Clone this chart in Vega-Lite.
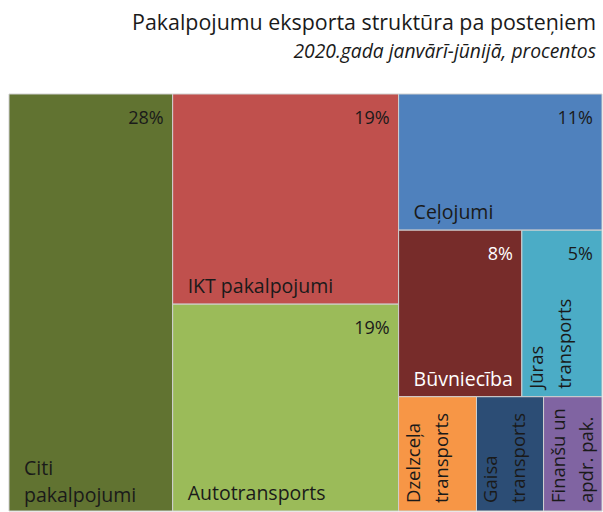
{
  "$schema": "https://vega.github.io/schema/vega-lite/v6.json",
  "width": 603,
  "height": 512,
  "autosize": {"type": "fit", "contains": "padding"},
  "padding": {"left": 8, "right": 0, "top": 12, "bottom": 0},
  "background": "white",
  "title": {
    "text": "Pakalpojumu eksporta struktūra pa posteņiem",
    "subtitle": "2020.gada janvārī-jūnijā, procentos",
    "anchor": "end",
    "frame": "group",
    "dx": -6,
    "font": "Open Sans",
    "fontSize": 21.4,
    "fontWeight": "normal",
    "color": "#1a1a1a",
    "subtitleFont": "Open Sans",
    "subtitleFontSize": 19.3,
    "subtitleFontStyle": "italic",
    "subtitleColor": "#1a1a1a",
    "subtitlePadding": 9,
    "offset": 31
  },
  "config": {"view": {"stroke": null}},
  "data": {
    "values": [
      {"name": "Citi pakalpojumi", "label": "Citi|pakalpojumi", "value": 27.6, "col": 1, "row": 1, "ord": 1},
      {"name": "IKT pakalpojumi", "label": "IKT pakalpojumi", "value": 19.2, "col": 2, "row": 1, "ord": 1},
      {"name": "Autotransports", "label": "Autotransports", "value": 18.9, "col": 2, "row": 2, "ord": 1},
      {"name": "Ceļojumi", "label": "Ceļojumi", "value": 11.2, "col": 3, "row": 1, "ord": 1},
      {"name": "Būvniecība", "label": "Būvniecība", "value": 8.3, "col": 3, "row": 2, "ord": 1},
      {"name": "Jūras transports", "label": "Jūras|transports", "value": 5.4, "col": 3, "row": 2, "ord": 2},
      {"name": "Dzelzceļa transports", "label": "Dzelzceļa|transports", "value": 3.6, "col": 3, "row": 3, "ord": 1},
      {"name": "Gaisa transports", "label": "Gaisa|transports", "value": 3.1, "col": 3, "row": 3, "ord": 2},
      {"name": "Finanšu un apdr. pak.", "label": "Finanšu un|apdr. pak.", "value": 2.7, "col": 3, "row": 3, "ord": 3}
    ]
  },
  "transform": [
    {"joinaggregate": [{"op": "sum", "field": "value", "as": "colTotal"}], "groupby": ["col"]},
    {"joinaggregate": [{"op": "sum", "field": "value", "as": "rowTotal"}], "groupby": ["col", "row"]},
    {"window": [{"op": "sum", "field": "value", "as": "cumAll"}], "sort": [{"field": "col"}, {"field": "row"}, {"field": "ord"}], "frame": [null, 0]},
    {"window": [{"op": "sum", "field": "value", "as": "cumCol"}], "groupby": ["col"], "sort": [{"field": "row"}, {"field": "ord"}], "frame": [null, 0]},
    {"window": [{"op": "sum", "field": "value", "as": "cumRow"}], "groupby": ["col", "row"], "sort": [{"field": "ord"}], "frame": [null, 0]},
    {"calculate": "datum.cumAll - datum.cumCol", "as": "colStart"},
    {"calculate": "datum.colStart + (datum.cumRow - datum.value) / datum.rowTotal * datum.colTotal", "as": "x0"},
    {"calculate": "datum.colStart + datum.cumRow / datum.rowTotal * datum.colTotal", "as": "x1"},
    {"calculate": "(datum.cumCol - datum.cumRow) / datum.colTotal * 100", "as": "y0"},
    {"calculate": "(datum.cumCol - datum.cumRow + datum.rowTotal) / datum.colTotal * 100", "as": "y1"},
    {"calculate": "format(datum.value, '.0f') + '%'", "as": "pctLabel"}
  ],
  "encoding": {
    "x": {"field": "x0", "type": "quantitative", "scale": {"domain": [0, 100], "nice": false, "zero": false}, "axis": null},
    "y": {"field": "y0", "type": "quantitative", "scale": {"domain": [0, 100], "nice": false, "zero": false, "reverse": true}, "axis": null}
  },
  "layer": [
    {
      "mark": {"type": "rect", "stroke": "#d0d0d0", "strokeWidth": 1},
      "encoding": {
        "x2": {"field": "x1"},
        "y2": {"field": "y1"},
        "color": {
          "field": "name",
          "type": "nominal",
          "scale": {
            "domain": ["Citi pakalpojumi", "IKT pakalpojumi", "Autotransports", "Ceļojumi", "Būvniecība", "Jūras transports", "Dzelzceļa transports", "Gaisa transports", "Finanšu un apdr. pak."],
            "range": ["#617331", "#c0504d", "#9bbb59", "#4f81bd", "#772c2a", "#4bacc6", "#f79646", "#2c4d75", "#8064a2"]
          },
          "legend": null
        }
      }
    },
    {
      "transform": [{"filter": "datum.value >= 5"}],
      "mark": {"type": "text", "align": "right", "baseline": "alphabetic", "dx": -9, "dy": 30, "font": "Open Sans", "fontSize": 18},
      "encoding": {
        "x": {"field": "x1", "type": "quantitative"},
        "text": {"field": "pctLabel"},
        "color": {"condition": {"test": "datum.name === 'Būvniecība'", "value": "white"}, "value": "#1a1a1a"}
      }
    },
    {
      "transform": [{"filter": {"field": "name", "oneOf": ["IKT pakalpojumi", "Autotransports", "Ceļojumi", "Būvniecība"]}}],
      "mark": {"type": "text", "align": "left", "baseline": "alphabetic", "dx": 15, "dy": -11, "font": "Open Sans", "fontSize": 19.5},
      "encoding": {
        "y": {"field": "y1", "type": "quantitative"},
        "text": {"field": "label"},
        "color": {"condition": {"test": "datum.name === 'Būvniecība'", "value": "white"}, "value": "#1a1a1a"}
      }
    },
    {
      "transform": [{"filter": {"field": "name", "equal": "Citi pakalpojumi"}}],
      "mark": {"type": "text", "align": "left", "baseline": "alphabetic", "dx": 15, "dy": -36, "font": "Open Sans", "fontSize": 19.5, "lineBreak": "|", "lineHeight": 27},
      "encoding": {
        "y": {"field": "y1", "type": "quantitative"},
        "text": {"field": "label"},
        "color": {"value": "#1a1a1a"}
      }
    },
    {
      "transform": [{"filter": {"field": "name", "oneOf": ["Jūras transports", "Dzelzceļa transports", "Gaisa transports", "Finanšu un apdr. pak."]}}],
      "mark": {"type": "text", "angle": 270, "align": "left", "baseline": "top", "dx": 8, "dy": 6, "font": "Open Sans", "fontSize": 18.5, "lineBreak": "|", "lineHeight": 28},
      "encoding": {
        "y": {"field": "y1", "type": "quantitative"},
        "text": {"field": "label"},
        "color": {"value": "#1a1a1a"}
      }
    }
  ]
}
